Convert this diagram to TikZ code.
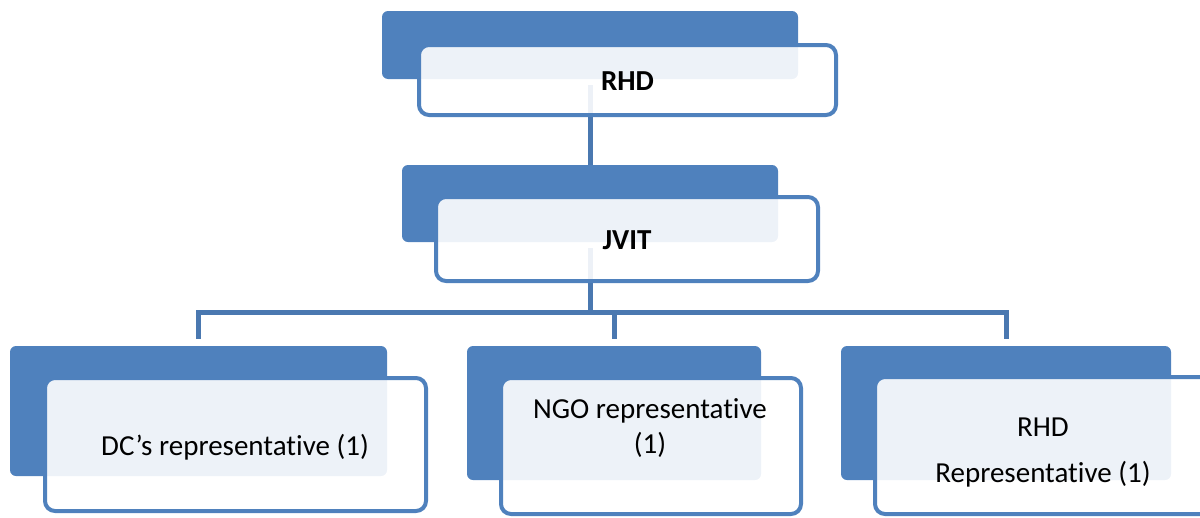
\documentclass[tikz,border=0pt]{standalone}
\usepackage{fontspec}
\setmainfont[Ligatures=NoCommon]{Carlito}
\definecolor{accent}{HTML}{4F81BD}
\definecolor{connc}{HTML}{4A78B0}
\begin{document}
\begin{tikzpicture}[x=1pt,y=-1pt,
  bluebox/.style={rectangle, rounded corners=6pt, fill=accent, draw=none, inner sep=0pt},
  whitebox/.style={rectangle, rounded corners=10pt, fill=white, fill opacity=0.9, draw=accent, draw opacity=1, line width=4pt, inner sep=0pt},
  conn/.style={draw=connc, line width=5pt},
  lbl/.style={font=\fontsize{29}{35}\selectfont, align=center, text=black, inner sep=0pt},
  hlbl/.style={font=\fontsize{29}{35}\selectfont\bfseries, text=black, inner sep=0pt}]
\useasboundingbox (0,0) rectangle (1200,517);
\clip (0,0) rectangle (1200,517);
% blue back boxes
\node[bluebox, minimum width=416pt, minimum height=68pt] (topblue) at (590,45) {};
\node[bluebox, minimum width=376pt, minimum height=77pt] (jvitblue) at (590,203.5) {};
\node[bluebox, minimum width=377pt, minimum height=130pt] (leftblue) at (198.5,411) {};
\node[bluebox, minimum width=294pt, minimum height=134pt] (midblue) at (614,413) {};
\node[bluebox, minimum width=330pt, minimum height=134pt] (rightblue) at (1006,413) {};
% connectors
\coordinate (c1) at (590,85);
\coordinate (c2) at (590,248);
\coordinate (hub) at (590,312);
\draw[conn] (c1) -- (jvitblue.north);
\draw[conn] (c2) -- (hub);
\draw[conn, shorten >=7pt] (hub) -| (leftblue.north);
\draw[conn, shorten >=7pt] (hub) -| (rightblue.north);
\draw[conn, shorten >=7pt] (midblue.north |- hub) -- (midblue.north);
% white front boxes
\node[whitebox, minimum width=417pt, minimum height=70pt] (topwhite) at (627.5,80) {};
\node[whitebox, minimum width=382pt, minimum height=84pt] (jvitwhite) at (627,239) {};
\node[whitebox, minimum width=381pt, minimum height=133pt] (leftwhite) at (235.5,444.5) {};
\node[whitebox, minimum width=300pt, minimum height=136pt] (midwhite) at (651,446) {};
\node[whitebox, minimum width=336pt, minimum height=137pt] (rightwhite) at (1043,445.5) {};
% labels
\node[hlbl] (tRHD) at (627.5,81) {RHD};
\node[hlbl] (tJVIT) at (627,240) {JVIT};
\node[lbl] (tDC) at (235,447) {DC’s representative (1)};
\node[lbl] (tNGO) at (650,428) {NGO representative\\(1)};
\node[lbl] (tRHDr) at (1043,453) {RHD\\[11pt]Representative (1)};
\end{tikzpicture}
\end{document}
